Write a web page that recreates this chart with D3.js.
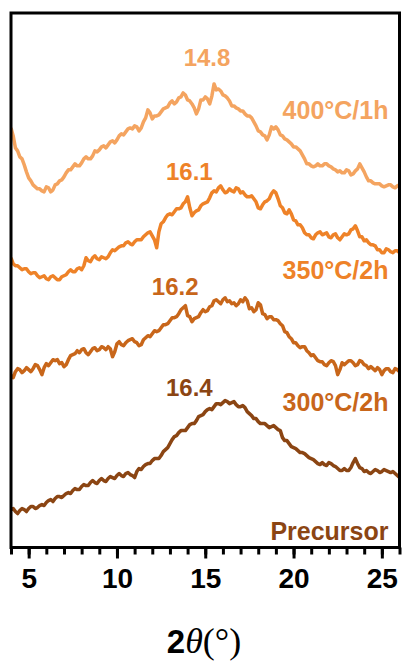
<!DOCTYPE html>
<html>
<head>
<meta charset="utf-8">
<script src="https://cdn.jsdelivr.net/npm/d3@7"></script>
<style>
  body { margin: 0; background: #fff; }
  svg { display: block; }
</style>
</head>
<body>
<svg width="404" height="666"></svg>
<script>
// 2theta grid, 4 to 26 deg, one reading every 0.25 deg (+ one in between each, see *Mid)
var twoTheta = d3.range(0, 89).map(function(i) { return 4 + i * 0.25; });

var precursor = [38,36,37,38,39,41,40,43,45,48, 49,51,52,55,57,58,61,62,65,65,
  67,67,69,70,72,72,74,73,70,79, 81,84,87,89,92,98,104,111,115,117,
  120,124,127,132,136,139,141,144,145,146, 145,143,141,140,134,129,126,124,122,121,
  120,117,107,104,100,97,95,92,89,86, 83,83,85,82,79,77,77,80,89,80,
  76,75,76,77,76,77,75,74,70];
var precursorMid = [39,34,39,36,41,39,42,42,47,46, 51,50,54,54,59,58,63,62,67,64,
  69,66,71,69,74,71,75,72,76,78, 83,84,89,89,96,100,108,112,117,117,
  123,124,131,133,138,138,144,143,147,144, 146,141,142,136,132,129,124,124,120,122,
  118,110,107,101,99,95,94,90,88,84, 85,82,84,81,77,79,77,85,84,79,
  77,74,78,75,78,76,76,72];

var t300 = [42,46,48,47,48,49,52,43,54,55, 57,54,51,58,63,67,68,65,66,70,
  68,70,71,61,74,73,75,78,76,72, 78,82,84,86,90,93,97,100,104,110,
  102,96,100,105,106,111,117,116,118,116, 114,112,118,120,109,106,115,104,99,101,
  98,94,86,81,75,72,71,67,62,60, 56,53,55,56,43,55,55,57,52,57,
  53,49,49,50,43,49,46,49,46];
var t300Mid = [40,49,45,50,46,53,48,50,52,58, 58,55,53,62,64,65,69,63,69,67,
  71,68,69,66,76,72,77,79,75,73, 80,81,87,87,93,94,100,101,108,112,
  101,99,101,108,107,112,118,114,120,117, 115,114,116,117,110,108,113,103,101,98,
  97,92,85,79,75,70,71,65,63,57, 56,52,57,52,48,53,57,55,53,56,
  52,51,47,48,47,49,45,48];

var t350 = [50,42,40,39,36,35,32,31,29,31, 30,28,32,36,36,39,38,50,46,52,
  48,50,51,58,59,62,65,64,66,68, 71,75,72,60,84,90,94,96,99,104,
  111,92,97,102,105,110,117,120,118,116, 117,120,115,113,111,109,100,103,107,114,
  115,102,95,98,88,83,80,73,70,73, 76,74,71,73,70,71,73,78,82,71,
  67,65,63,58,55,59,56,57,55];
var t350Mid = [44,42,38,39,34,35,30,32,28,32, 28,31,33,38,36,40,42,47,50,49,
  51,49,55,57,61,62,66,63,68,68, 73,76,68,76,86,93,93,99,100,106,
  100,95,98,104,106,115,116,122,115,119, 116,119,116,111,112,106,99,106,109,117,
  109,100,94,94,87,83,75,73,69,75, 73,75,70,74,68,74,74,79,77,71,
  68,63,62,58,55,58,55,57];

var t400 = [80,60,51,43,30,23,19,17,21,16, 23,27,31,38,41,42,45,51,49,57,
  58,62,63,67,68,74,76,80,82,77, 86,98,89,92,96,100,105,104,110,115,
  108,104,94,108,111,104,124,119,113,110, 102,100,97,94,92,86,77,73,68,81,
  81,73,69,66,61,59,53,44,42,42, 42,44,42,39,36,35,38,33,37,44,
  36,27,25,24,22,22,23,20,23];
var t400Mid = [72,57,49,36,27,21,19,16,20,18, 24,28,35,38,44,42,49,49,52,56,
  61,60,66,65,72,73,79,79,81,80, 90,95,92,93,99,101,107,106,111,113,
  107,100,99,108,109,112,118,117,112,107, 102,99,97,92,90,82,76,72,73,79,
  78,72,68,64,61,57,49,44,41,44, 42,44,41,38,37,35,37,34,39,40,
  31,27,24,24,21,23,21,22];

var seriesNames = ["Precursor", "300°C/2h", "350°C/2h", "400°C/1h"];
var seriesData = [precursor, t300, t350, t400];
var seriesMid = [precursorMid, t300Mid, t350Mid, t400Mid];
var offsets = [0, 130, 240, 340];
var colors = ["#8b4513", "#c8661a", "#ee8228", "#f4a460"];
var peakLabels = ["16.4", "16.2", "16.1", "14.8"];
var peakPos = [14.1, 13.3, 14.1, 15.1];
var peakLabelY = [160, 261, 376, 490];
var nameLabelY = [16, 145, 278, 438];

var xTicks = [5, 10, 15, 20, 25];
var xMinor = d3.range(4, 27, 1);

var svg = d3.select("svg"),
    margin = {top: 13, right: 4.5, bottom: 118.5, left: 11},
    width = +svg.attr("width") - margin.left - margin.right,
    height = +svg.attr("height") - margin.top - margin.bottom,
    g = svg.append("g").attr("transform", "translate(" + margin.left + "," + margin.top + ")");

var x = d3.scaleLinear().domain([4, 26]).range([0, width]);
var y = d3.scaleLinear().domain([0, 535]).range([height, 0]);

g.append("clipPath").attr("id", "clip")
  .append("rect").attr("width", width).attr("height", height);

var line = d3.line()
  .x(function(d) { return x(d[0]); })
  .y(function(d) { return y(d[1]); });

seriesData.forEach(function(vals, k) {
  var pts = [];
  vals.forEach(function(v, i) {
    pts.push([twoTheta[i], v + offsets[k]]);
    if (i < seriesMid[k].length) pts.push([twoTheta[i] + 0.125, seriesMid[k][i] + offsets[k]]);
  });
  g.append("path")
    .datum(pts)
    .attr("clip-path", "url(#clip)")
    .attr("fill", "none")
    .attr("stroke", colors[k])
    .attr("stroke-width", 3.5)
    .attr("stroke-linejoin", "round")
    .attr("d", line);

  g.append("text")
    .attr("x", x(peakPos[k]))
    .attr("y", y(peakLabelY[k]))
    .attr("text-anchor", "middle")
    .attr("dy", "0.35em")
    .attr("fill", colors[k])
    .style("font", "bold 24px 'Liberation Sans', Arial, sans-serif")
    .text(peakLabels[k]);

  g.append("text")
    .attr("x", width - 11)
    .attr("y", y(nameLabelY[k]))
    .attr("text-anchor", "end")
    .attr("dy", "0.35em")
    .attr("fill", colors[k])
    .style("font", "bold 25px 'Liberation Sans', Arial, sans-serif")
    .text(seriesNames[k]);
});

// minor ticks
g.append("g")
  .attr("transform", "translate(0," + height + ")")
  .call(d3.axisBottom(x).tickValues(xMinor).tickSize(7).tickFormat(""))
  .call(function(a) {
    a.select(".domain").remove();
    a.selectAll("line").attr("stroke-width", 3);
  });

// major ticks
g.append("g")
  .attr("transform", "translate(0," + height + ")")
  .call(d3.axisBottom(x).tickValues(xTicks).tickSize(11).tickPadding(10))
  .call(function(a) {
    a.select(".domain").remove();
    a.selectAll("line").attr("stroke-width", 3);
    a.selectAll("text")
      .attr("fill", "#000")
      .style("font", "bold 28px 'Liberation Sans', Arial, sans-serif");
  });

// frame
g.append("rect")
  .attr("width", width)
  .attr("height", height)
  .attr("fill", "none")
  .attr("stroke", "#000")
  .attr("stroke-width", 3);

var title = svg.append("text")
  .attr("x", 204)
  .attr("y", 653)
  .attr("text-anchor", "middle");
title.append("tspan")
  .style("font", "bold 33px 'Liberation Sans', Arial, sans-serif")
  .text("2");
title.append("tspan")
  .style("font", "italic 36px 'Liberation Serif', 'Times New Roman', serif")
  .text("θ");
title.append("tspan")
  .style("font", "36px 'Liberation Serif', 'Times New Roman', serif")
  .text("(°)");
</script>
</body>
</html>
